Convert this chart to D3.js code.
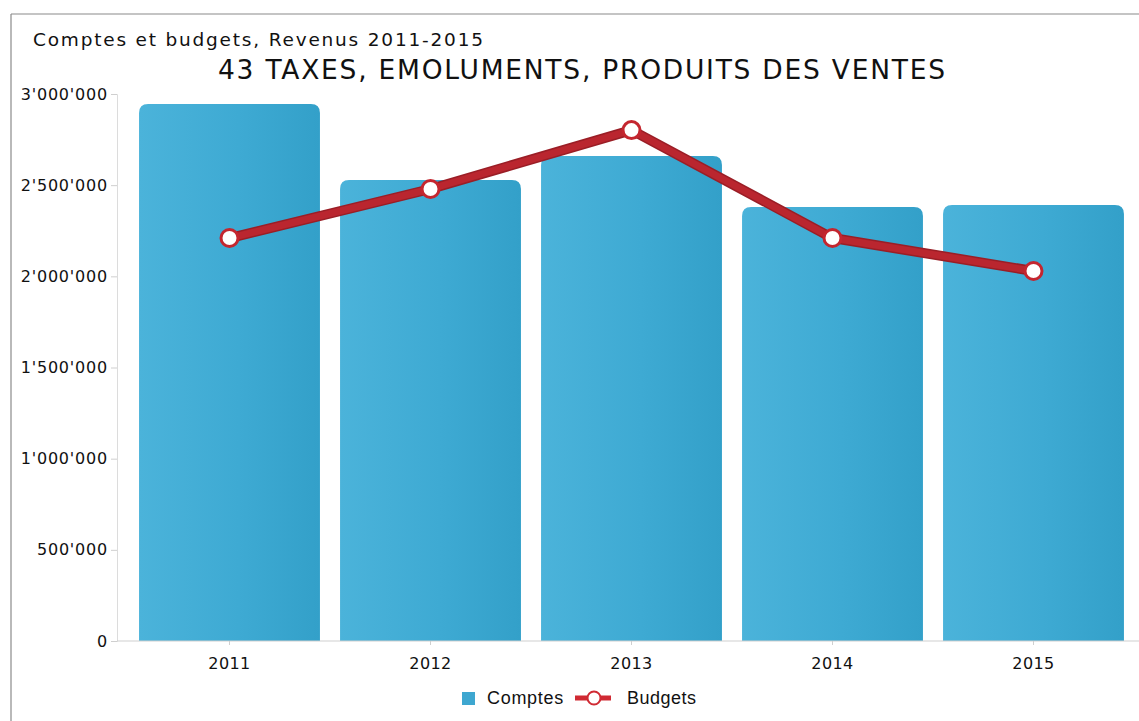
<!DOCTYPE html>
<html>
<head>
<meta charset="utf-8">
<script src="https://cdn.jsdelivr.net/npm/d3@7"></script>
<style>
  html, body { margin: 0; padding: 0; background: #fff; }
  svg { display: block; }
</style>
</head>
<body>
<svg id="chart" width="1139" height="721"></svg>
<script>
// Revenue data, 2011-2015
const years = ["2011", "2012", "2013", "2014", "2015"];
const comptes = [2945000, 2528000, 2660000, 2380000, 2391000];
const budgets = [2210000, 2479000, 2802000, 2210000, 2029000];
const yTicks = [0, 500000, 1000000, 1500000, 2000000, 2500000, 3000000];

const svg = d3.select("#chart");
const W = 1139, H = 721;
const FONT = "DejaVu Sans, Verdana, sans-serif";

// Outer frame (top and left edges)
svg.append("line").attr("x1", 11).attr("x2", W).attr("y1", 14).attr("y2", 14)
  .attr("stroke", "#8a8a8a").attr("stroke-width", 1.2);
svg.append("line").attr("x1", 11).attr("x2", 11).attr("y1", 14).attr("y2", H)
  .attr("stroke", "#8a8a8a").attr("stroke-width", 1.2);

// Titles
svg.append("text").attr("x", 33).attr("y", 46)
  .attr("font-family", FONT).attr("font-size", 18.5)
  .attr("textLength", 450).attr("lengthAdjust", "spacing")
  .attr("fill", "#111").text("Comptes et budgets, Revenus 2011-2015");
svg.append("text").attr("x", 218).attr("y", 79)
  .attr("font-family", FONT).attr("font-size", 26.5)
  .attr("textLength", 727).attr("lengthAdjust", "spacing")
  .attr("fill", "#111").text("43 TAXES, EMOLUMENTS, PRODUITS DES VENTES");

const y = d3.scaleLinear().domain([0, 3000000]).range([641, 94]);
const x = d3.scaleBand().domain(years).range([129, 1134]).paddingInner(0.1).paddingOuter(0.05);

const fmt = v => d3.format(",")(v).replace(/,/g, "'");

// Bar gradient
const defs = svg.append("defs");
const grad = defs.append("linearGradient").attr("id", "barGrad")
  .attr("x1", "0%").attr("x2", "100%").attr("y1", "0%").attr("y2", "0%");
grad.append("stop").attr("offset", "0%").attr("stop-color", "#4bb3da");
grad.append("stop").attr("offset", "55%").attr("stop-color", "#3eaad3");
grad.append("stop").attr("offset", "100%").attr("stop-color", "#33a0c9");

// Y axis
const yAxis = svg.append("g").attr("transform", "translate(117,0)")
  .call(d3.axisLeft(y).tickValues(yTicks).tickFormat(fmt).tickSize(6).tickPadding(3));
yAxis.select(".domain").attr("stroke", "#dcdcdc");
yAxis.selectAll(".tick line").attr("stroke", "#cfcfcf");
yAxis.selectAll("text").attr("font-family", FONT)
  .attr("font-size", 16).attr("letter-spacing", 0.8).attr("fill", "#111");

// Bars with rounded top corners
const r = 9;
function barPath(x0, w, yTop, yBase) {
  return `M${x0},${yBase} L${x0},${yTop + r} Q${x0},${yTop} ${x0 + r},${yTop} ` +
         `L${x0 + w - r},${yTop} Q${x0 + w},${yTop} ${x0 + w},${yTop + r} L${x0 + w},${yBase} Z`;
}
svg.append("g").selectAll("path").data(years).join("path")
  .attr("d", (d, i) => barPath(x(d), x.bandwidth(), y(comptes[i]), y(0)))
  .attr("fill", "url(#barGrad)");

// X axis
const xAxis = svg.append("g").attr("transform", `translate(0,${y(0)})`)
  .call(d3.axisBottom(x).tickSize(4).tickPadding(13));
xAxis.select(".domain").attr("stroke", "#cfcfcf").attr("d", `M117,0H1139`);
xAxis.selectAll(".tick line").attr("stroke", "#cfcfcf");
xAxis.selectAll("text").attr("font-family", FONT)
  .attr("font-size", 16).attr("letter-spacing", 0.4).attr("fill", "#111");

// Budget line
const cx = d => x(d) + x.bandwidth() / 2;
const line = d3.line().x((d, i) => cx(years[i])).y(d => y(d));
svg.append("path").datum(budgets).attr("d", line)
  .attr("fill", "none").attr("stroke", "#9a1e26").attr("stroke-width", 10)
  .attr("stroke-linejoin", "round");
svg.append("path").datum(budgets).attr("d", line)
  .attr("fill", "none").attr("stroke", "#ba262f").attr("stroke-width", 7)
  .attr("stroke-linejoin", "round");
svg.append("g").selectAll("circle").data(budgets).join("circle")
  .attr("cx", (d, i) => cx(years[i])).attr("cy", d => y(d)).attr("r", 8.5)
  .attr("fill", "#fff").attr("stroke", "#c4262f").attr("stroke-width", 3);

// Legend
const lg = svg.append("g");
lg.append("rect").attr("x", 462).attr("y", 692).attr("width", 13).attr("height", 13).attr("fill", "#3ea7d0");
lg.append("text").attr("x", 487).attr("y", 704)
  .attr("font-family", "Liberation Sans, Arial, sans-serif").attr("font-size", 18)
  .attr("letter-spacing", 0.7).attr("fill", "#111").text("Comptes");
lg.append("line").attr("x1", 575).attr("x2", 611).attr("y1", 698).attr("y2", 698)
  .attr("stroke", "#d02a33").attr("stroke-width", 5);
lg.append("circle").attr("cx", 594).attr("cy", 698).attr("r", 6.5)
  .attr("fill", "#fff").attr("stroke", "#d02a33").attr("stroke-width", 2);
lg.append("text").attr("x", 627).attr("y", 704)
  .attr("font-family", "Liberation Sans, Arial, sans-serif").attr("font-size", 18)
  .attr("letter-spacing", 0.5).attr("fill", "#111").text("Budgets");
</script>
</body>
</html>
